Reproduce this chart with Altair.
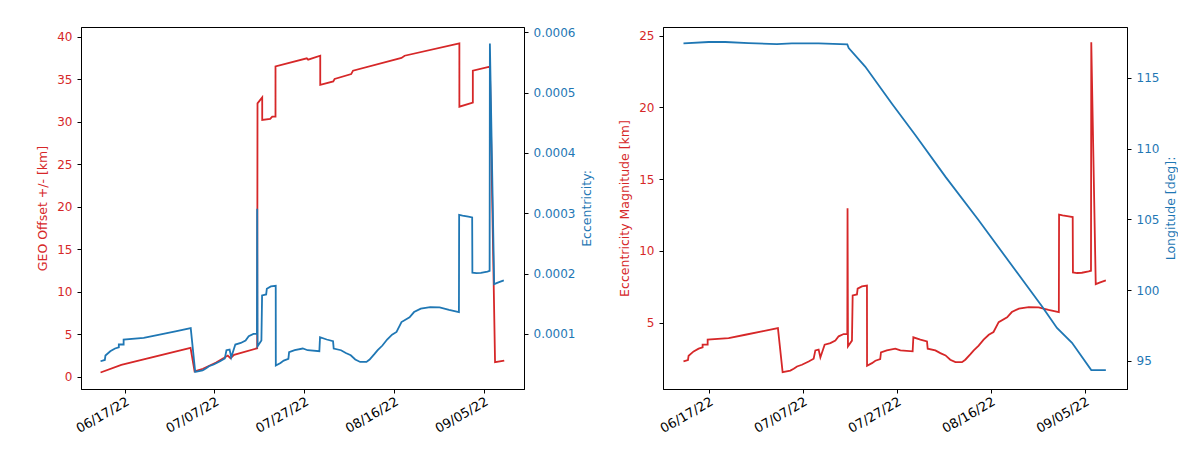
import altair as alt
import pandas as pd

RED = "#d62728"
BLUE = "#1f77b4"
BASE = pd.Timestamp("2022-06-17")
R_GEO_KM = 42164.0  # eccentricity = magnitude [km] / GEO radius

# ---- GEO offset +/- [km] (left panel, red); day offsets from 2022-06-17
geo_days = [-5.35, -0.73, 14.7, 15.6, 17.46, 20.4, 22.2, 23.0, 23.6, 24.4, 29.55, 29.62,
            30.67, 30.67, 32.45, 32.9, 33.63, 33.63, 40.6, 40.9, 43.6, 43.6, 46.5, 46.8,
            50.5, 50.9, 61.7, 62.4, 74.6, 74.6, 77.6, 77.6, 81.4, 82.55, 84.6]
geo_km = [0.47, 1.38, 3.38, 0.62, 0.91, 1.65, 2.2, 2.47, 2.15, 2.55, 3.33, 32.15,
          32.86, 30.2, 30.32, 30.59, 30.59, 36.5, 37.45, 37.3, 37.76, 34.32, 34.74, 35.02,
          35.6, 36.0, 37.5, 37.76, 39.21, 31.76, 32.24, 36.0, 36.47, 1.68, 1.88]

# ---- Eccentricity magnitude [km] (right panel red; left panel blue as eccentricity)
ecc_days = [-5.35, -4.40, -4.26, -3.19, -2.13, -1.28, -1.28, -0.21, -0.21, 4.26, 7.81, 11.34,
            14.74, 15.74, 17.38, 18.1, 18.8, 19.85, 21.28, 22.34, 22.7, 23.4, 23.77, 24.68,
            25.9, 26.96, 27.66, 28.72, 29.5, 29.55, 29.64, 30.49, 30.64, 31.55, 31.7, 32.6,
            33.68, 33.7, 34.74, 35.47, 36.5, 36.66, 37.9, 39.7, 40.8, 43.4, 43.55, 45.04,
            46.45, 46.6, 48.23, 49.3, 50.4, 51.4, 52.5, 53.9, 54.6, 55.7, 56.4, 57.45,
            58.5, 59.6, 60.6, 61.7, 63.5, 64.5, 66.0, 68.1, 70.2, 72.3, 74.5, 74.55,
            75.3, 76.6, 77.45, 77.5, 78.4, 79.4, 80.85, 81.34, 81.4, 82.35, 83.3, 84.5]
ecc_km = [2.30, 2.39, 2.70, 3.00, 3.19, 3.28, 3.47, 3.47, 3.82, 3.93, 4.16, 4.39,
          4.62, 1.56, 1.66, 1.79, 1.95, 2.07, 2.30, 2.49, 3.07, 3.12, 2.58, 3.47,
          3.58, 3.75, 4.05, 4.21, 4.21, 12.97, 3.35, 3.75, 6.90, 6.97, 7.37, 7.53,
          7.58, 2.0, 2.18, 2.35, 2.46, 2.93, 3.07, 3.19, 3.07, 3.0, 3.98, 3.82,
          3.70, 3.19, 3.07, 2.88, 2.72, 2.42, 2.25, 2.25, 2.42, 2.81, 3.07, 3.40,
          3.82, 4.16, 4.35, 5.04, 5.37, 5.74, 5.98, 6.09, 6.07, 5.9, 5.74, 12.53,
          12.48, 12.41, 12.36, 8.5, 8.46, 8.48, 8.57, 8.62, 24.53, 7.69, 7.81, 7.95]

# ---- Longitude [deg] (right panel, blue)
lon_days = [-5.35, 0.0, 3.55, 8.5, 14.5, 17.7, 23.4, 29.5, 29.8, 33.3, 39.0, 44.0,
            50.4, 57.4, 70.9, 74.1, 77.3, 81.4, 84.5]
lon_deg = [117.44, 117.54, 117.54, 117.46, 117.39, 117.44, 117.44, 117.37, 117.11, 115.8, 113.17, 110.94,
           108.0, 104.95, 98.85, 97.32, 96.27, 94.34, 94.34]

tick_dates = [(2022, 6, 17), (2022, 7, 7), (2022, 7, 27), (2022, 8, 16), (2022, 9, 5)]


def frame(days, vals):
    return pd.DataFrame({
        "t": [(BASE + pd.Timedelta(days=d)).strftime("%Y-%m-%dT%H:%M:%S") for d in days],
        "v": vals,
        "i": list(range(len(days))),
    })


geo_df = frame(geo_days, geo_km)
eccm_df = frame(ecc_days, ecc_km)
ecc_df = frame(ecc_days, [k / R_GEO_KM for k in ecc_km])
lon_df = frame(lon_days, lon_deg)

x_domain = [alt.DateTime(year=2022, month=6, date=7, hours=7),
            alt.DateTime(year=2022, month=9, date=14, hours=0)]
x_axis = alt.Axis(values=[alt.DateTime(year=y, month=m, date=d) for y, m, d in tick_dates],
                  format="%m/%d/%y", labelAngle=-30, labelAlign="right", labelBaseline="top",
                  labelColor="black", labelPadding=2, labelFontSize=13, title=None)
X = alt.X("t:T", scale=alt.Scale(domain=x_domain), axis=x_axis)


def line(df, color, y):
    return alt.Chart(df).mark_line(color=color, strokeWidth=1.8, clip=True).encode(
        x=X, y=y, order=alt.Order("i:Q"))


left_red = line(geo_df, RED, alt.Y(
    "v:Q", scale=alt.Scale(domain=[-1.47, 41.14], nice=False, zero=False),
    axis=alt.Axis(title="GEO Offset +/- [km]", values=list(range(0, 41, 5)),
                  titleColor=RED, labelColor=RED, orient="left")))
left_blue = line(ecc_df, BLUE, alt.Y(
    "v:Q", scale=alt.Scale(domain=[0.0000085, 0.000609], nice=False, zero=False),
    axis=alt.Axis(title="Eccentricity:", values=[0.0001, 0.0002, 0.0003, 0.0004, 0.0005, 0.0006],
                  format=".4f", titleColor=BLUE, labelColor=BLUE, orient="right",
                  titleAngle=270, titleBaseline="top", titlePadding=6)))
left = alt.layer(left_red, left_blue).resolve_scale(y="independent").properties(width=443, height=362)

right_red = line(eccm_df, RED, alt.Y(
    "v:Q", scale=alt.Scale(domain=[0.38, 25.6], nice=False, zero=False),
    axis=alt.Axis(title="Eccentricity Magnitude [km]", values=[5, 10, 15, 20, 25],
                  titleColor=RED, labelColor=RED, orient="left")))
right_blue = line(lon_df, BLUE, alt.Y(
    "v:Q", scale=alt.Scale(domain=[93.0, 118.6], nice=False, zero=False),
    axis=alt.Axis(title="Longitude [deg]:", values=[95, 100, 105, 110, 115],
                  titleColor=BLUE, labelColor=BLUE, orient="right",
                  titleAngle=270, titleBaseline="top", titlePadding=6)))
right = alt.layer(right_red, right_blue).resolve_scale(y="independent").properties(width=464, height=362)

chart = alt.hconcat(left, right, spacing=24).properties(
    padding={"left": 28, "top": 17, "right": 0, "bottom": 0}
).configure_view(stroke="black", strokeWidth=1).configure_axis(
    grid=False, labelFont="DejaVu Sans", titleFont="DejaVu Sans", labelFontSize=12,
    titleFontSize=12.5, titleFontWeight="normal", domainColor="black", tickColor="black",
    tickSize=4, labelPadding=5, titlePadding=7,
)

chart.save("out.html", embed_options={"renderer": "svg", "actions": False})
